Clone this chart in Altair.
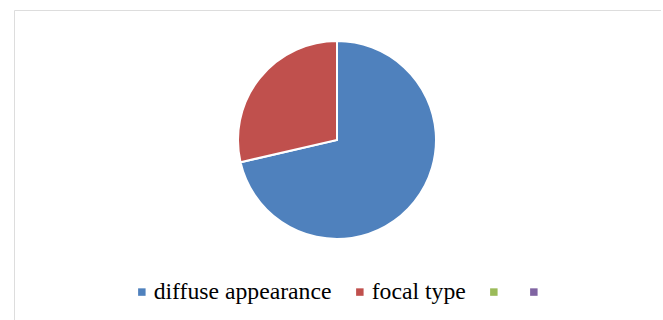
import altair as alt
import pandas as pd

categories = ["diffuse appearance", "focal type", "", " "]
values = [71.4, 28.6, 0, 0]
colors = ["#4F81BD", "#C0504D", "#9BBB59", "#8064A2"]

df = pd.DataFrame({"category": categories, "value": values, "order": list(range(len(categories)))})

chart = alt.Chart(df).mark_arc(outerRadius=99, stroke="white", strokeWidth=2).encode(
    theta=alt.Theta("value:Q", stack=True),
    order=alt.Order("order:Q"),
    color=alt.Color(
        "category:N",
        sort=categories,
        scale=alt.Scale(domain=categories, range=colors),
        legend=alt.Legend(
            title=None,
            orient="none",
            legendX=116,
            legendY=270,
            padding=0,
            direction="horizontal",
            symbolType="square",
            symbolSize=56,
            symbolStrokeWidth=0,
            labelFont="Liberation Serif",
            labelFontSize=23.7,
            labelColor="black",
            labelOffset=0,
            columnPadding=16,
            labelExpr="datum.label == 'diffuse appearance' || datum.label == 'focal type' ? datum.label : ''",
            labelLimit=400,
        ),
    ),
    x=alt.value(323),
    y=alt.value(130),
).properties(
    width=647,
    height=320,
    padding={"left": 14, "top": 10, "right": 0, "bottom": 0},
).configure_view(
    stroke="#d9d9d9",
    strokeWidth=1.5,
).configure(font="Liberation Serif")

chart.save("out.html", embed_options={"renderer": "svg", "actions": False})
